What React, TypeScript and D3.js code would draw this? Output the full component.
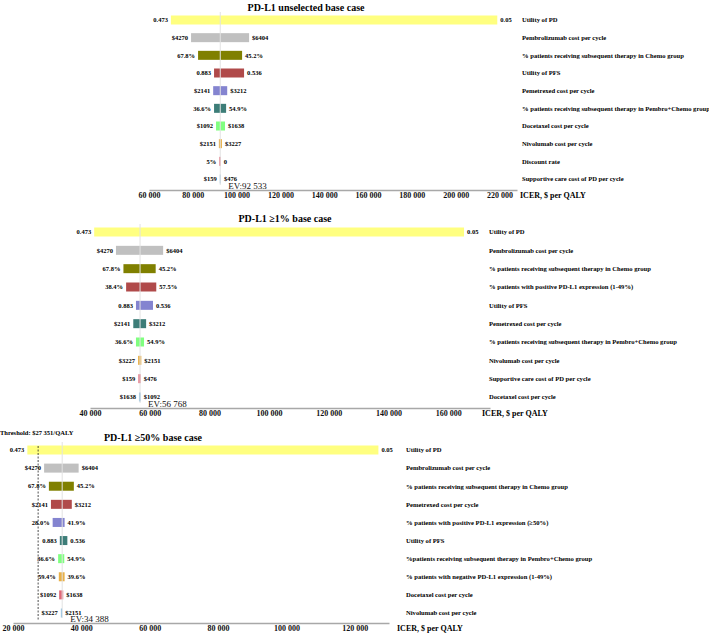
import React, { useEffect, useRef } from "react";
import * as d3 from "d3";

// colours by row
const rowColors = ["#ffff80", "#c0c0c0", "#808000", "#b04a4a", "#8484d0", "#3d7d78", "#80ff80", "#e8b048", "#e06878", "#88bde0"];

// panel 1: PD-L1 unselected
const p1Params = ["Utility of PD", "Pembrolizumab cost per cycle", "% patients receiving subsequent therapy in Chemo group", "Utility of PFS", "Pemetrexed cost per cycle", "% patients receiving subsequent therapy in Pembro+Chemo group", "Docetaxel cost per cycle", "Nivolumab cost per cycle", "Discount rate", "Supportive care cost of PD per cycle"];
const p1Low = [70000, 79200, 82400, 89700, 89300, 89700, 90600, 91900, 92100, 92300];
const p1High = [219000, 105700, 102500, 103400, 95700, 95200, 94700, 93300, 92800, 92800];
const p1LowLabels = ["0.473", "$4270", "67.8%", "0.883", "$2141", "36.6%", "$1092", "$2151", "5%", "$159"];
const p1HighLabels = ["0.05", "$6404", "45.2%", "0.536", "$3212", "54.9%", "$1638", "$3227", "0", "$476"];
const p1Ticks = [60000, 80000, 100000, 120000, 140000, 160000, 180000, 200000, 220000];

// panel 2: PD-L1 >=1%
const p2Params = ["Utility of PD", "Pembrolizumab cost per cycle", "% patients receiving subsequent therapy in Chemo group", "% patients with positive PD-L1 expression (1-49%)", "Utility of PFS", "Pemetrexed cost per cycle", "% patients receiving subsequent therapy in Pembro+Chemo group", "Nivolumab cost per cycle", "Supportive care cost of PD per cycle", "Docetaxel cost per cycle"];
const p2Low = [41400, 48700, 51200, 52100, 55400, 54500, 55400, 56100, 56200, 56400];
const p2High = [165300, 64500, 62000, 62200, 61100, 58800, 58100, 57200, 57000, 57000];
const p2LowLabels = ["0.473", "$4270", "67.8%", "38.4%", "0.883", "$2141", "36.6%", "$3227", "$159", "$1638"];
const p2HighLabels = ["0.05", "$6404", "45.2%", "57.5%", "0.536", "$3212", "54.9%", "$2151", "$476", "$1092"];
const p2Ticks = [40000, 60000, 80000, 100000, 120000, 140000, 160000];

// panel 3: PD-L1 >=50%
const p3Params = ["Utility of PD", "Pembrolizumab cost per cycle", "% patients receiving subsequent therapy in Chemo group", "Pemetrexed cost per cycle", "% patients with positive PD-L1 expression (≥50%)", "Utility of PFS", "%patients receiving subsequent therapy in Pembro+Chemo group", "% patients with negative PD-L1 expression (1-49%)", "Docetaxel cost per cycle", "Nivolumab cost per cycle"];
const p3Low = [24200, 29100, 30500, 31100, 31600, 33700, 33200, 33400, 33500, 34000];
const p3High = [126900, 39200, 37800, 37200, 35100, 35900, 35000, 35100, 34700, 34400];
const p3LowLabels = ["0.473", "$4270", "67.8%", "$2141", "28.0%", "0.883", "36.6%", "59.4%", "$1092", "$3227"];
const p3HighLabels = ["0.05", "$6404", "45.2%", "$3212", "41.9%", "0.536", "54.9%", "39.6%", "$1638", "$2151"];
const p3Ticks = [20000, 40000, 60000, 80000, 100000, 120000];

const evValues = [92533, 56768, 34388];
const threshold = 27351;

const FONT = "'Liberation Serif', 'Times New Roman', serif";

export default function App() {
  const ref = useRef<SVGSVGElement>(null);

  useEffect(() => {
    const svg = d3.select(ref.current);
    svg.selectAll("*").remove();

    const panels = [
      { title: "PD-L1 unselected base case", titleX: 306, titleY: 11, params: p1Params, low: p1Low, high: p1High, lowL: p1LowLabels, highL: p1HighLabels, ticks: p1Ticks, domain: [60000, 228000], range: [149, 517], rows: [20, 179], axisY: 190, catX: 522, icerX: 520, ev: evValues[0] },
      { title: "PD-L1 ≥1% base case", titleX: 285, titleY: 222, params: p2Params, low: p2Low, high: p2High, lowL: p2LowLabels, highL: p2HighLabels, ticks: p2Ticks, domain: [40000, 174000], range: [90, 490], rows: [232, 397], axisY: 408, catX: 489, icerX: 482, ev: evValues[1] },
      { title: "PD-L1 ≥50% base case", titleX: 153, titleY: 441, params: p3Params, low: p3Low, high: p3High, lowL: p3LowLabels, highL: p3HighLabels, ticks: p3Ticks, domain: [20000, 130000], range: [13, 389], rows: [450, 613], axisY: 623, catX: 406, icerX: 397, ev: evValues[2] },
    ];

    const barH = 9;

    panels.forEach((p, pi) => {
      const g = svg.append("g");
      const x = d3.scaleLinear().domain(p.domain).range(p.range);
      const y = d3.scalePoint<string>().domain(p.params).range(p.rows);
      const idx = d3.range(p.params.length);

      // title
      g.append("text")
        .attr("x", p.titleX).attr("y", p.titleY)
        .attr("text-anchor", "middle")
        .attr("font-family", FONT).attr("font-weight", "bold").attr("font-size", 10)
        .text(p.title);

      // bars
      g.selectAll("rect.bar").data(idx).join("rect")
        .attr("class", "bar")
        .attr("x", i => x(Math.min(p.low[i], p.high[i])))
        .attr("y", i => y(p.params[i])! - barH / 2)
        .attr("width", i => Math.max(1.2, Math.abs(x(p.high[i]) - x(p.low[i]))))
        .attr("height", barH)
        .attr("fill", i => rowColors[i]);

      // value labels
      g.selectAll("text.lo").data(idx).join("text")
        .attr("class", "lo")
        .attr("x", i => x(p.low[i]) - 3)
        .attr("y", i => y(p.params[i])!)
        .attr("dy", "0.35em")
        .attr("text-anchor", "end")
        .attr("font-family", FONT).attr("font-weight", "bold").attr("font-size", 6.5)
        .text(i => p.lowL[i]);
      g.selectAll("text.hi").data(idx).join("text")
        .attr("class", "hi")
        .attr("x", i => Math.max(x(p.high[i]), x(p.low[i]) + 1.2) + 3)
        .attr("y", i => y(p.params[i])!)
        .attr("dy", "0.35em")
        .attr("font-family", FONT).attr("font-weight", "bold").attr("font-size", 6.5)
        .text(i => p.highL[i]);

      // parameter names
      g.selectAll("text.cat").data(idx).join("text")
        .attr("class", "cat")
        .attr("x", p.catX)
        .attr("y", i => y(p.params[i])!)
        .attr("dy", "0.35em")
        .attr("font-family", FONT).attr("font-weight", "bold").attr("font-size", 6.6)
        .text(i => p.params[i]);

      // expected value line
      const evX = x(p.ev);
      g.append("line")
        .attr("x1", evX).attr("x2", evX)
        .attr("y1", p.rows[0] - 8).attr("y2", p.axisY - 5)
        .attr("stroke", "#e2e2e2").attr("stroke-width", 1);
      g.append("text")
        .attr("x", evX + 8).attr("y", p.axisY - 1.5)
        .attr("font-family", FONT).attr("font-size", 9).attr("fill", "#111")
        .text("EV:" + d3.format(",")(p.ev).replace(/,/g, " "));

      // threshold on the last panel
      if (pi === 2) {
        const tx = x(threshold);
        g.append("line")
          .attr("x1", tx).attr("x2", tx)
          .attr("y1", p.rows[0] - 4).attr("y2", p.axisY - 2)
          .attr("stroke", "#222").attr("stroke-width", 0.8)
          .attr("stroke-dasharray", "2,1.5");
        g.append("text")
          .attr("x", 0).attr("y", 435)
          .attr("font-family", FONT).attr("font-weight", "bold").attr("font-size", 6.5)
          .text("Threshold: $27 351/QALY");
      }

      // x axis
      const axis = g.append("g")
        .attr("transform", `translate(0,${p.axisY})`)
        .call(d3.axisBottom(x).tickValues(p.ticks).tickSize(0).tickPadding(2)
          .tickFormat(d => d3.format(",")(d as number).replace(/,/g, " ")));
      axis.select(".domain").attr("stroke", "#a8a8a8").attr("stroke-width", 1.5);
      axis.selectAll("text")
        .attr("font-family", FONT).attr("font-weight", "bold").attr("font-size", 8).attr("fill", "#111");

      g.append("text")
        .attr("x", p.icerX).attr("y", p.axisY + 5)
        .attr("dy", "0.35em")
        .attr("font-family", FONT).attr("font-weight", "bold").attr("font-size", 8)
        .text("ICER, $ per QALY");
    });
  }, []);

  return (
    <svg ref={ref} width={709} height={634}
      style={{ position: "absolute", left: 0, top: 0, background: "#fff" }} />
  );
}
